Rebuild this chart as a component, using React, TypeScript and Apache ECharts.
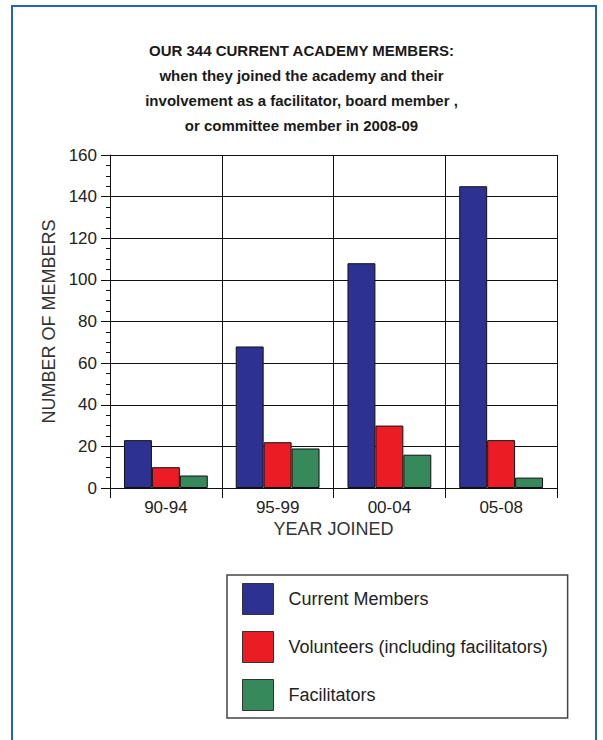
import React, { useEffect, useRef } from "react";
import * as echarts from "echarts";

const titleLines = [
  "OUR 344 CURRENT ACADEMY MEMBERS:",
  "when they joined the academy and their",
  "involvement as a facilitator, board member ,",
  "or committee member in 2008-09",
];
const categories = ["90-94", "95-99", "00-04", "05-08"];
const seriesNames = ["Current Members", "Volunteers (including facilitators)", "Facilitators"];
const currentMembers = [23, 68, 108, 145];
const volunteers = [10, 22, 30, 23];
const facilitators = [6, 19, 16, 5];
const yTicks = { min: 0, max: 160, interval: 20 };
const xAxisName = "YEAR JOINED";
const yAxisName = "NUMBER OF MEMBERS";

const FONT = "'Liberation Sans', Arial, Helvetica, sans-serif";
const colors = ["#2c3192", "#ec1c24", "#35895a"];

export default function App() {
  const ref = useRef<HTMLDivElement>(null);
  useEffect(() => {
    document.body.style.margin = "0";
    if (!ref.current) return;
    const chart = echarts.init(ref.current, undefined, { renderer: "svg" });
    const values = [currentMembers, volunteers, facilitators];
    chart.setOption({
      animation: false,
      backgroundColor: "#ffffff",
      title: {
        text: titleLines.join("\n"),
        left: "center",
        top: 33,
        textStyle: {
          fontFamily: FONT,
          fontSize: 15,
          fontWeight: "bold",
          color: "#1a1a1a",
          lineHeight: 25,
        },
      },
      graphic: [
        {
          type: "rect",
          shape: { x: 12, y: 6, width: 584, height: 800 },
          style: { fill: "none", stroke: "#1d66b8", lineWidth: 2 },
          silent: true,
        },
      ],
      legend: {
        orient: "vertical",
        left: 227,
        top: 575,
        itemWidth: 31,
        itemHeight: 31,
        itemGap: 16,
        padding: [8, 20, 7, 15],
        borderColor: "#444",
        borderWidth: 1.5,
        icon: "rect",
        itemStyle: { borderColor: "#333", borderWidth: 1 },
        textStyle: {
          fontFamily: FONT,
          fontSize: 18,
          color: "#222",
          padding: [0, 0, 0, 10],
        },
        data: seriesNames,
      },
      grid: { left: 110, top: 155, right: 46, bottom: 252, containLabel: false },
      xAxis: {
        type: "category",
        data: categories,
        name: xAxisName,
        nameLocation: "middle",
        nameGap: 32,
        nameTextStyle: { fontFamily: FONT, fontSize: 18, color: "#333" },
        axisLine: { show: true, lineStyle: { color: "#111", width: 1 } },
        axisTick: { show: true, length: 10, lineStyle: { color: "#111" } },
        axisLabel: { fontFamily: FONT, fontSize: 17, color: "#222", margin: 11 },
        splitLine: { show: true, lineStyle: { color: "#111", width: 1 } },
      },
      yAxis: {
        type: "value",
        min: yTicks.min,
        max: yTicks.max,
        interval: yTicks.interval,
        name: yAxisName,
        nameLocation: "middle",
        nameGap: 52,
        nameTextStyle: { fontFamily: FONT, fontSize: 18, color: "#333" },
        axisLine: { show: true, lineStyle: { color: "#111", width: 1 } },
        axisTick: { show: true, length: 9, lineStyle: { color: "#111" } },
        minorTick: { show: true, splitNumber: 4, length: 4, lineStyle: { color: "#111" } },
        axisLabel: { fontFamily: FONT, fontSize: 17, color: "#222", margin: 13 },
        splitLine: { show: true, lineStyle: { color: "#111", width: 1 } },
      },
      series: seriesNames.map((name, i) => ({
        name,
        type: "bar",
        data: values[i],
        barGap: "0%",
        barCategoryGap: "25%",
        itemStyle: { color: colors[i], borderColor: "#111", borderWidth: 1 },
      })),
    });
    return () => chart.dispose();
  }, []);
  return <div ref={ref} style={{ width: 603, height: 740 }} />;
}
